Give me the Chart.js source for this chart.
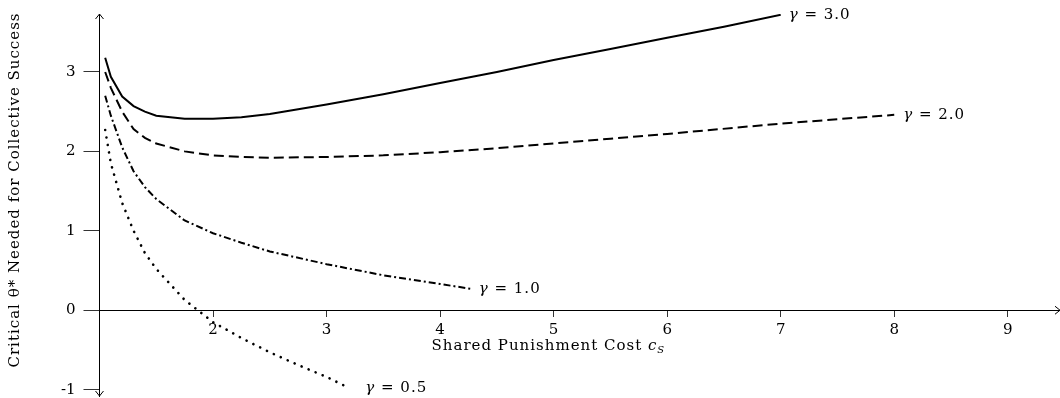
<!DOCTYPE html>
<html>
<head>
<meta charset="utf-8">
<script src="https://cdn.jsdelivr.net/npm/chart.js@4.4.1/dist/chart.umd.min.js"></script>
<style>
  html, body { margin: 0; padding: 0; background: #fff; }
  #wrap { width: 1060px; height: 398px; position: relative; }
</style>
</head>
<body>
<div id="wrap"><canvas id="myChart"></canvas></div>
<script>
/* values */
var gammaLabels = ['\u03b3 = 3.0', '\u03b3 = 2.0', '\u03b3 = 1.0', '\u03b3 = 0.5'];

var cs_g30 = [1.05, 1.1, 1.2, 1.3, 1.4, 1.5, 1.75, 2.0, 2.25, 2.5, 2.75, 3.0, 3.5, 4.0, 4.5, 5.0, 5.5, 6.0, 6.5, 7.0];
var theta_g30 = [3.18, 2.94, 2.69, 2.57, 2.50, 2.45, 2.41, 2.41, 2.43, 2.47, 2.53, 2.59, 2.72, 2.86, 3.00, 3.15, 3.29, 3.43, 3.57, 3.72];

var cs_g20 = [1.05, 1.1, 1.2, 1.3, 1.4, 1.5, 1.75, 2.0, 2.25, 2.5, 3.0, 3.5, 4.0, 4.5, 5.0, 5.5, 6.0, 7.0, 8.0];
var theta_g20 = [3.00, 2.80, 2.50, 2.28, 2.17, 2.10, 2.00, 1.95, 1.93, 1.92, 1.93, 1.95, 1.99, 2.04, 2.10, 2.16, 2.22, 2.35, 2.46];

var cs_g10 = [1.05, 1.1, 1.2, 1.3, 1.4, 1.5, 1.75, 2.0, 2.25, 2.5, 3.0, 3.5, 4.0, 4.27];
var theta_g10 = [2.70, 2.45, 2.05, 1.75, 1.55, 1.40, 1.13, 0.97, 0.85, 0.74, 0.58, 0.44, 0.33, 0.27];

var cs_g05 = [1.05, 1.1, 1.2, 1.3, 1.4, 1.5, 1.75, 2.0, 2.25, 2.5, 2.75, 3.0, 3.2];
var theta_g05 = [2.27, 1.85, 1.35, 1.00, 0.72, 0.52, 0.13, -0.15, -0.35, -0.53, -0.69, -0.84, -0.98];

var xTicks = [2, 3, 4, 5, 6, 7, 8, 9];
var yTicks = [-1, 0, 1, 2, 3];

var xTitle = 'Shared Punishment Cost ';
var yTitle = 'Critical \u03b8* Needed for Collective Success';

var serif = '"DejaVu Serif", serif';

function toPoints(xs, ys) {
  return xs.map(function(x, i) { return { x: x, y: ys[i] }; });
}

/* arrows on the axes, axis titles and the gamma labels at the end of each curve */
var extrasPlugin = {
  id: 'extras',
  afterDraw: function(chart) {
    var ctx = chart.ctx;
    var area = chart.chartArea;
    var xs = chart.scales.x, ys = chart.scales.y;
    var x0 = xs.getPixelForValue(1), y0 = ys.getPixelForValue(0);
    ctx.save();
    ctx.strokeStyle = '#000';
    ctx.lineWidth = 1;
    // arrow heads
    ctx.beginPath();
    ctx.moveTo(x0 - 4, area.top + 5); ctx.lineTo(x0, area.top); ctx.lineTo(x0 + 4, area.top + 5);
    ctx.moveTo(x0 - 4, area.bottom - 5); ctx.lineTo(x0, area.bottom); ctx.lineTo(x0 + 4, area.bottom - 5);
    ctx.moveTo(area.right - 5, y0 - 4); ctx.lineTo(area.right, y0); ctx.lineTo(area.right - 5, y0 + 4);
    ctx.stroke();

    ctx.fillStyle = '#000';
    ctx.textBaseline = 'middle';
    ctx.letterSpacing = '1px';
    // x title, placed under the tick labels
    ctx.font = '15px ' + serif;
    var tw = ctx.measureText(xTitle).width;
    ctx.font = 'italic 15px ' + serif;
    var cw = ctx.measureText('c').width;
    var tx = xs.getPixelForValue(4.95) - (tw + cw + 7) / 2;
    var ty = y0 + 36;
    ctx.font = '15px ' + serif;
    ctx.textAlign = 'left';
    ctx.fillText(xTitle, tx, ty);
    ctx.font = 'italic 15px ' + serif;
    ctx.fillText('c', tx + tw, ty);
    ctx.font = 'italic 10px ' + serif;
    ctx.fillText('S', tx + tw + cw, ty + 4);

    // y title
    ctx.save();
    ctx.translate(15, (area.top + area.bottom) / 2 - 15);
    ctx.rotate(-Math.PI / 2);
    ctx.textAlign = 'center';
    ctx.font = '15px ' + serif;
    ctx.fillText(yTitle, 0, 0);
    ctx.restore();

    // curve labels
    ctx.textAlign = 'left';
    chart.data.datasets.forEach(function(ds, i) {
      var meta = chart.getDatasetMeta(i);
      var last = meta.data[meta.data.length - 1];
      var lx = last.x + ds.labelGap, ly = last.y;
      ctx.font = 'italic 15px ' + serif;
      ctx.fillText('\u03b3', lx, ly);
      var gw = ctx.measureText('\u03b3').width;
      ctx.font = '15px ' + serif;
      ctx.fillText(ds.label.slice(1), lx + gw, ly);
    });
    ctx.letterSpacing = '0px';
    ctx.restore();
  }
};

const ctx = document.getElementById('myChart');
new Chart(ctx, {
  type: 'line',
  data: {
    datasets: [{
        label: gammaLabels[0],
        data: toPoints(cs_g30, theta_g30),
        borderColor: '#000',
        borderWidth: 2,
        labelGap: 8
      },
      {
        label: gammaLabels[1],
        data: toPoints(cs_g20, theta_g20),
        borderColor: '#000',
        borderWidth: 2,
        borderDash: [10, 5],
        labelGap: 9
      },
      {
        label: gammaLabels[2],
        data: toPoints(cs_g10, theta_g10),
        borderColor: '#000',
        borderWidth: 2,
        borderDash: [7, 3, 2, 3],
        labelGap: 8
      },
      {
        label: gammaLabels[3],
        data: toPoints(cs_g05, theta_g05),
        borderColor: '#000',
        borderWidth: 2.6,
        borderCapStyle: 'round',
        borderDash: [0.1, 7.5],
        labelGap: 16
    }]
  },
  options: {
    responsive: true,
    maintainAspectRatio: false,
    animation: false,
    layout: {
      autoPadding: false,
      padding: { left: 0, right: 0, top: 14, bottom: 2 }
    },
    elements: {
      point: { radius: 0 },
      line: { tension: 0, fill: false }
    },
    plugins: {
      legend: { display: false },
      tooltip: { enabled: false },
      title: { display: false }
    },
    scales: {
      x: {
        type: 'linear',
        min: 1,
        max: 9.46,
        position: { y: 0 },
        afterBuildTicks: function(scale) {
          scale.ticks = xTicks.map(function(v) { return { value: v }; });
        },
        afterFit: function(scale) {
          scale.paddingLeft = 0;
          scale.paddingRight = 0;
        },
        border: { color: '#000', width: 1 },
        grid: { drawOnChartArea: false, drawTicks: true, tickLength: 6, color: '#333' },
        ticks: {
          color: '#000',
          padding: 5,
          maxRotation: 0,
          font: { family: serif, size: 15 }
        }
      },
      y: {
        type: 'linear',
        position: 'left',
        min: -1.08,
        max: 3.73,
        afterBuildTicks: function(scale) {
          scale.ticks = yTicks.map(function(v) { return { value: v }; });
        },
        /* the tick labels are allowed to overhang the plot area */
        afterFit: function(scale) {
          scale.width = 99.5;
          scale.paddingTop = 0;
          scale.paddingBottom = 0;
        },
        border: { color: '#000', width: 1 },
        grid: { drawOnChartArea: false, drawTicks: true, tickLength: 16, color: '#333' },
        ticks: {
          color: '#000',
          padding: 8,
          font: { family: serif, size: 15 }
        }
      }
    }
  },
  plugins: [extrasPlugin]
});
</script>
</body>
</html>
